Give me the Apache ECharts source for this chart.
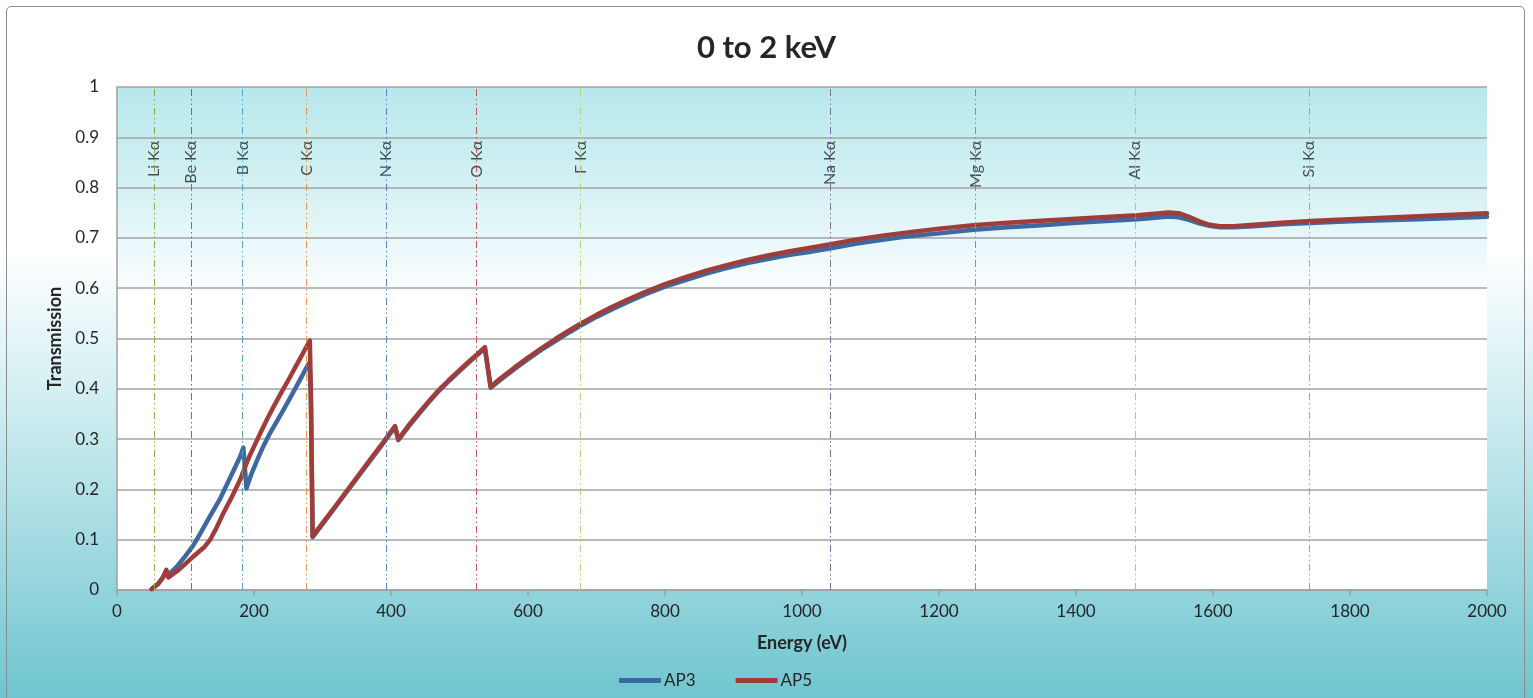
<!DOCTYPE html>
<html>
<head>
<meta charset="utf-8">
<script src="https://cdn.jsdelivr.net/npm/echarts@6/dist/echarts.min.js"></script>
<style>
  html, body { margin:0; padding:0; width:1533px; height:698px; overflow:hidden;
    background: linear-gradient(to bottom, #ffffff 0%, #ffffff 36%, #d6f0f3 55%, #a2dae1 78%, #6fc5cf 100%); }
  #frame { position:absolute; left:6px; top:6px; width:1519px; height:700px; border:1.5px solid #8c8c8c; border-radius:5px; box-sizing:border-box; }
  #chart { position:absolute; left:0; top:0; width:1533px; height:698px; }
</style>
</head>
<body>
<div id="frame"></div>
<div id="chart"></div>
<script>
// ---- data ----
const titleText = '0 to 2 keV';
const xTitle = 'Energy (eV)';
const yTitle = 'Transmission';

const ap3Energy = [50.6, 60, 67, 72, 75, 87, 100, 112, 121, 135, 150, 170, 180, 184.4, 186, 189, 196, 204, 213, 223, 243, 260, 279, 281, 283, 285.6,
  300, 320, 360, 391, 405.8, 410.7, 425, 440, 455, 470, 485, 500, 515, 530, 537, 545.5,
  560, 580, 600, 620, 640, 660, 680, 700, 720, 745, 770, 800, 830, 860, 890, 920, 950, 980, 1010, 1040, 1080, 1120, 1160, 1200, 1250,
  1300, 1350, 1400, 1450, 1490, 1515, 1535, 1550, 1565, 1580, 1595, 1610, 1630, 1660, 1700, 1750, 1800, 1900, 2000];
const ap3Trans = [0.002, 0.012, 0.025, 0.038, 0.030, 0.046, 0.068, 0.090, 0.111, 0.145, 0.180, 0.237, 0.266, 0.283, 0.280, 0.202, 0.230, 0.256, 0.284, 0.311, 0.358, 0.400, 0.448, 0.452, 0.380, 0.105,
  0.131, 0.167, 0.240, 0.296, 0.324, 0.298, 0.324, 0.349, 0.373, 0.396, 0.416, 0.435, 0.454, 0.472, 0.481, 0.402,
  0.418, 0.439, 0.459, 0.478, 0.495, 0.512, 0.528, 0.543, 0.556, 0.572, 0.587, 0.603, 0.616, 0.629, 0.640, 0.650, 0.658, 0.666, 0.672, 0.679, 0.689, 0.697, 0.704, 0.709, 0.716,
  0.721, 0.725, 0.730, 0.734, 0.737, 0.740, 0.7425, 0.741, 0.736, 0.729, 0.724, 0.721, 0.721, 0.723, 0.727, 0.730, 0.733, 0.737, 0.742];

const ap5Energy = [50.6, 60, 67, 72, 75, 90, 111, 128, 136, 145, 155, 168, 180, 187, 194, 200, 210, 220, 230, 240, 250, 260, 270, 281.5, 283, 285.6,
  300, 320, 360, 391, 405.8, 410.7, 425, 440, 455, 470, 485, 500, 515, 530, 537, 545.5,
  560, 580, 600, 620, 640, 660, 680, 700, 720, 745, 770, 800, 830, 860, 890, 920, 950, 980, 1010, 1040, 1080, 1120, 1160, 1200, 1250,
  1300, 1350, 1400, 1450, 1490, 1515, 1535, 1550, 1565, 1580, 1595, 1610, 1630, 1660, 1700, 1750, 1800, 1900, 2000];
const ap5Trans = [0.002, 0.012, 0.025, 0.040, 0.025, 0.040, 0.066, 0.086, 0.100, 0.123, 0.152, 0.186, 0.220, 0.245, 0.268, 0.285, 0.314, 0.342, 0.368, 0.393, 0.417, 0.442, 0.467, 0.496, 0.400, 0.107,
  0.133, 0.169, 0.242, 0.298, 0.326, 0.300, 0.326, 0.351, 0.375, 0.398, 0.418, 0.437, 0.456, 0.474, 0.483, 0.404,
  0.421, 0.442, 0.462, 0.481, 0.499, 0.516, 0.532, 0.547, 0.561, 0.577, 0.592, 0.608, 0.622, 0.635, 0.646, 0.656, 0.665, 0.673, 0.680, 0.687, 0.697, 0.705, 0.712, 0.718, 0.725,
  0.730, 0.734, 0.738, 0.742, 0.745, 0.748, 0.7505, 0.749, 0.742, 0.733, 0.726, 0.723, 0.723, 0.726, 0.730, 0.734, 0.737, 0.743, 0.749];

const lineNames = ['Li Kα', 'Be Kα', 'B Kα', 'C Kα', 'N Kα', 'O Kα', 'F Kα', 'Na Kα', 'Mg Kα', 'Al Kα', 'Si Kα'];
const lineEnergies = [54.3, 108.5, 183.3, 277, 392.4, 524.9, 676.8, 1041, 1253.6, 1486.6, 1740];
const lineColors = ['#86ab36', '#7a5aa0', '#4aa3c0', '#f0913c', '#4f7fc0', '#c0504d', '#b3cc7a', '#8064a2', '#37a8c8', '#f5a55a', '#8c9fd0'];

const xTicks = [0, 2000, 200];
const yTicks = [0, 1, 0.1];

// ---- chart ----
const FONT = 'Lato, "Liberation Sans", sans-serif';
const zip = (xs, ys) => xs.map((x, i) => [x, ys[i]]);
const labelY = 0.893;

const chart = echarts.init(document.getElementById('chart'), null, { renderer: 'canvas' });
chart.setOption({
  backgroundColor: 'transparent',
  animation: false,
  title: {
    text: titleText, left: 'center', top: 27,
    textStyle: { fontFamily: FONT, fontWeight: 'bold', fontSize: 31, color: '#262626' }
  },
  legend: {
    data: ['AP3', 'AP5'], left: 614, top: 667,
    icon: 'roundRect', itemWidth: 42, itemHeight: 5, itemGap: 40,
    textStyle: { fontFamily: FONT, fontSize: 17, color: '#262626', padding: [0, 0, 0, -2] }
  },
  grid: {
    left: 117, right: 46, top: 87, bottom: 108, show: true, borderWidth: 0,
    backgroundColor: new echarts.graphic.LinearGradient(0, 0, 0, 1, [
      { offset: 0, color: '#b7e8ec' },
      { offset: 0.225, color: '#d9f2f5' },
      { offset: 0.36, color: '#f3fbfc' },
      { offset: 0.42, color: '#ffffff' },
      { offset: 1, color: '#ffffff' }
    ])
  },
  xAxis: {
    type: 'value', min: xTicks[0], max: xTicks[1], interval: xTicks[2],
    name: xTitle, nameLocation: 'middle', nameGap: 44,
    nameTextStyle: { fontFamily: FONT, fontWeight: 'bold', fontSize: 18, color: '#262626' },
    axisLine: { show: true, lineStyle: { color: '#a0a0a0', width: 1.5 } },
    axisTick: { show: true, length: 6, lineStyle: { color: '#a0a0a0', width: 1.5 } },
    axisLabel: { margin: 13, fontFamily: FONT, fontSize: 17, color: '#262626', formatter: v => String(v) },
    splitLine: { show: false }
  },
  yAxis: {
    type: 'value', min: yTicks[0], max: yTicks[1], interval: yTicks[2],
    name: yTitle, nameLocation: 'middle', nameGap: 52,
    nameTextStyle: { fontFamily: FONT, fontWeight: 'bold', fontSize: 18, color: '#262626' },
    axisLine: { show: true, lineStyle: { color: '#a0a0a0', width: 1.5 } },
    axisTick: { show: false },
    axisLabel: { margin: 18, fontFamily: FONT, fontSize: 17, color: '#262626' },
    splitLine: { show: true, lineStyle: { color: '#a3a3a3', width: 1.5 } }
  },
  series: [
    {
      name: 'lines', type: 'scatter', z: 1, symbolSize: 0, silent: true,
      data: lineNames.map((n, i) => ({ name: n, value: [lineEnergies[i], labelY] })),
      label: {
        show: true, position: 'inside', rotate: 90, align: 'right', verticalAlign: 'middle',
        formatter: p => p.name, fontFamily: FONT, fontSize: 16, color: '#262626'
      },
      markLine: {
        silent: true, symbol: 'none', label: { show: false }, animation: false,
        data: lineEnergies.map((e, i) => ({
          xAxis: e,
          lineStyle: { color: lineColors[i], width: 1, type: [7, 3, 1.5, 3, 1.5, 3], opacity: 0.95 }
        }))
      }
    },
    {
      name: 'AP3', type: 'line', z: 3, showSymbol: false, smooth: false,
      data: zip(ap3Energy, ap3Trans),
      lineStyle: { color: '#3d69a0', width: 4.5, cap: 'round', join: 'round' },
      itemStyle: { color: '#3d69a0' }
    },
    {
      name: 'AP5', type: 'line', z: 4, showSymbol: false, smooth: false,
      data: zip(ap5Energy, ap5Trans),
      lineStyle: { color: '#a13d39', width: 4.5, cap: 'round', join: 'round' },
      itemStyle: { color: '#a13d39' }
    }
  ]
});
</script>
</body>
</html>
